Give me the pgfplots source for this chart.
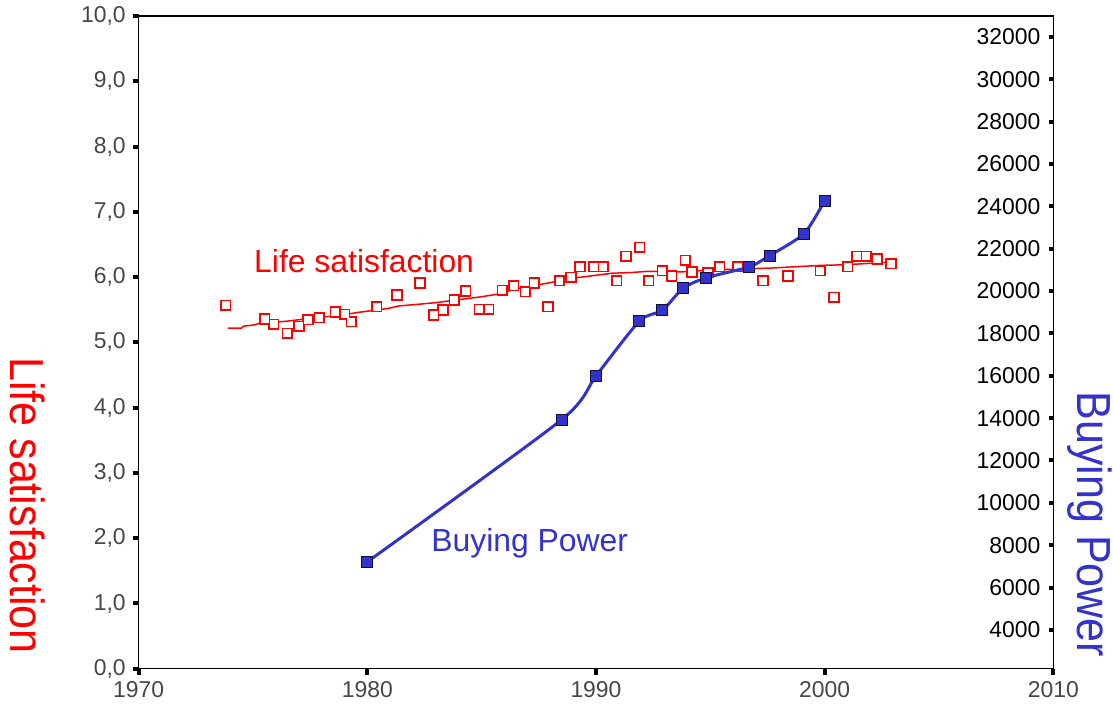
\documentclass[border=0pt]{standalone}
\usepackage{fontspec}
\setmainfont{Liberation Sans}
\usepackage{pgfplots}
\pgfplotsset{compat=1.18}
\definecolor{bpblue}{RGB}{51,51,204}
\definecolor{lsred}{RGB}{255,0,0}
\definecolor{ticktext}{RGB}{70,70,70}

\pgfplotstableread{
year  ls
1973.8 5.57
1975.5 5.36
1975.9 5.28
1976.5 5.14
1977.0 5.25
1977.4 5.35
1977.9 5.38
1978.6 5.47
1979.0 5.43
1979.3 5.32
1980.4 5.55
1981.3 5.73
1982.3 5.91
1982.9 5.42
1983.3 5.50
1983.8 5.65
1984.3 5.79
1984.9 5.51
1985.3 5.51
1985.9 5.80
1986.4 5.87
1986.9 5.78
1987.3 5.91
1987.9 5.55
1988.4 5.95
1988.9 6.00
1989.3 6.16
1989.9 6.16
1990.3 6.16
1990.9 5.95
1991.3 6.32
1991.9 6.46
1992.3 5.95
1992.9 6.10
1993.3 6.02
1993.9 6.26
1994.2 6.08
1994.9 6.07
1995.4 6.16
1996.2 6.16
1997.3 5.95
1998.4 6.02
1999.8 6.10
2000.4 5.69
2001.0 6.16
2001.4 6.32
2001.8 6.32
2002.3 6.28
2002.9 6.21
}\lsdata

\begin{document}
\begin{tikzpicture}
\pgfplotsset{
  every axis/.append style={
    width=459pt, height=327.5pt, scale only axis,
    xmin=1970, xmax=2010,
    /pgf/number format/assume math mode=true,
    tick label style={font=\fontsize{11.5}{13}\selectfont},
  },
}
% left axis: life satisfaction
\begin{axis}[
  ymin=0, ymax=10,
  xtick={1970,1980,...,2010},
  ytick={0,1,...,10},
  xtick pos=bottom, ytick pos=left,
  tick align=outside,
  major tick length=3pt,
  every tick/.append style={black, line width=2pt},
  major tick style={black, line width=2pt},
  axis line style={line width=0.75pt},
  xticklabel style={text=ticktext, /pgf/number format/1000 sep={}},
  yticklabel style={text=ticktext},
  yticklabel={\pgfmathprintnumber[fixed,fixed zerofill,precision=1,use comma]{\tick}},
  ylabel={Life satisfaction},
  ylabel style={at={(rel axis cs:-0.1215,0.25)}, anchor=center, rotate=180, xscale=0.9,
    inner sep=5pt, text=lsred, font=\fontsize{24}{28}\selectfont},
]
% open squares: red square with white inside
\addplot[color=lsred, only marks, mark=square*, mark size=2.6pt] table[x=year, y=ls] {\lsdata};
\addplot[color=white, only marks, mark=square*, mark size=1.75pt] table[x=year, y=ls] {\lsdata};
% fitted curve
\addplot[lsred, line width=0.75pt, mark=none] coordinates {
  (1973.9,5.22) (1974.5,5.22) (1974.6,5.25) (1975.1,5.27) (1975.3,5.30)
  (1976.0,5.31) (1976.6,5.33) (1977.5,5.37) (1978.9,5.42) (1979.6,5.46)
  (1980.9,5.52) (1981.4,5.56) (1982.1,5.58) (1983.0,5.61) (1983.9,5.65)
  (1985.0,5.70) (1985.7,5.74) (1986.5,5.82) (1987.3,5.87) (1987.9,5.91)
  (1988.9,5.98) (1989.8,6.02) (1990.7,6.06) (1991.5,6.07) (1992.3,6.09)
  (1993.7,6.08) (1995.0,6.11) (1997.7,6.14) (1999.8,6.18) (2000.9,6.19)
  (2002.9,6.23)
};
\node[text=lsred, font=\fontsize{16}{19}\selectfont] at (axis cs:1979.86,6.24) {Life satisfaction};
\node[text=bpblue, font=\fontsize{16}{19}\selectfont] at (axis cs:1987.1,1.93) {Buying Power};
\end{axis}
% right axis: buying power
\begin{axis}[
  ymin=2165, ymax=32988,
  axis x line=none,
  axis y line*=right,
  axis line style={line width=0.75pt},
  ytick={4000,6000,...,32000},
  tick align=inside,
  major tick length=2pt,
  every tick/.append style={black, line width=2pt},
  major tick style={black, line width=2pt},
  yticklabel style={anchor=east, xshift=-3pt, text=black, /pgf/number format/1000 sep={}},
  scaled y ticks=false,
  ylabel={Buying Power},
  ylabel style={at={(rel axis cs:1.0398,0.221)}, anchor=center, rotate=180, xscale=0.9,
    inner sep=0.5pt, text=bpblue, font=\fontsize{24}{28}\selectfont},
]
\addplot[bpblue, line width=1.5pt, smooth, tension=0.4, mark=square*,
  mark size=2.75pt, mark options={fill=bpblue, draw=black!70!bpblue, line width=0.5pt}] coordinates {
  (1980.0,7214) (1988.5,13929) (1990.0,16000) (1991.9,18588) (1992.9,19092)
  (1993.8,20127) (1994.8,20626) (1996.7,21144) (1997.6,21680) (1999.1,22715)
  (2000.0,24268)
};
\end{axis}
\end{tikzpicture}
\end{document}
